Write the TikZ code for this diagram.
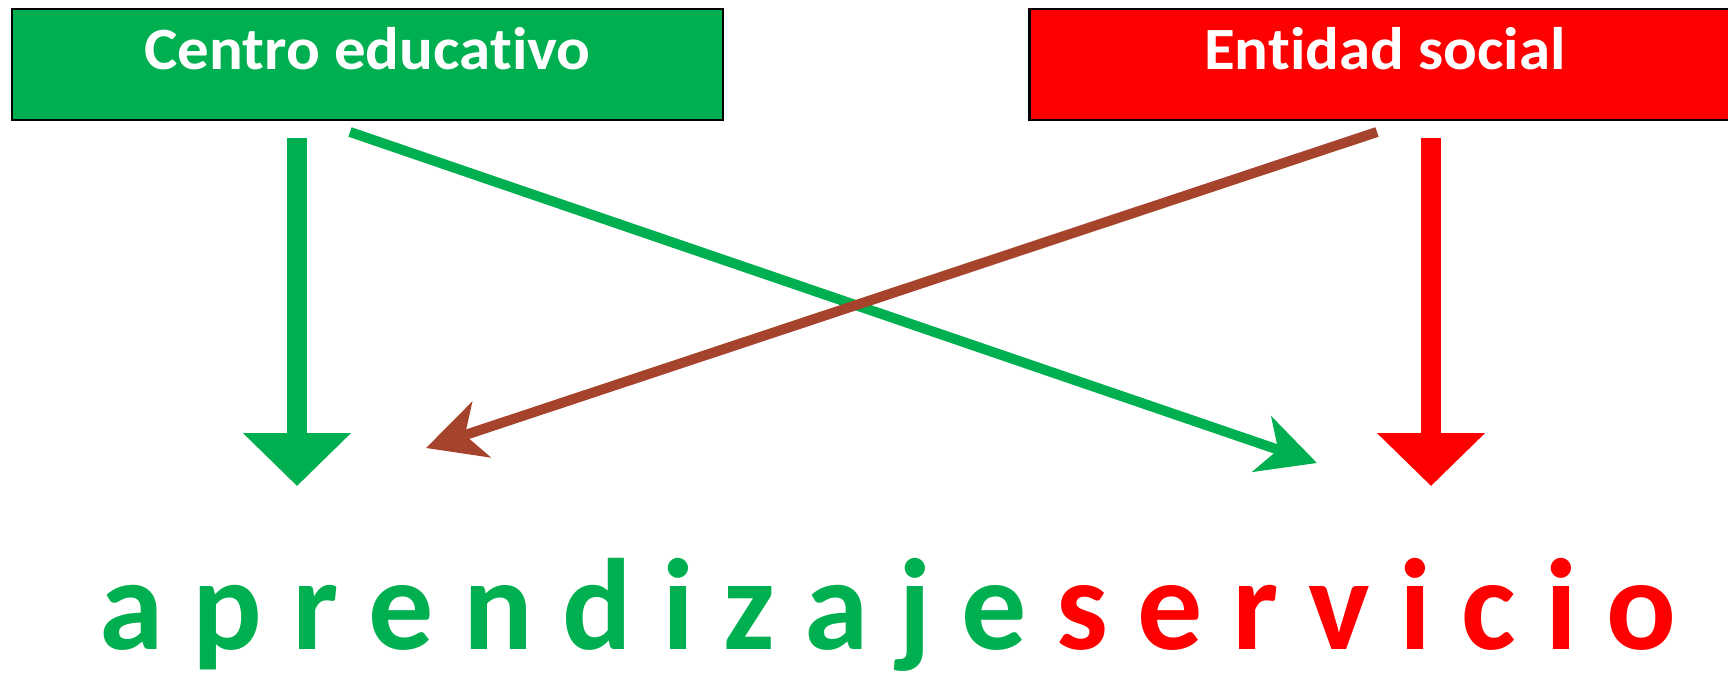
\documentclass[tikz,border=0pt]{standalone}
\usepackage{fontspec}
\setmainfont{Carlito}[Ligatures={NoCommon}]
\usetikzlibrary{arrows.meta}
\definecolor{ogreen}{HTML}{00B050}
\definecolor{ored}{HTML}{FF0000}
\definecolor{obrown}{HTML}{A5432D}
\newcommand\lsp{\hspace{14.8pt}}
\begin{document}
\begin{tikzpicture}[x=0.5pt,y=-0.5pt,
  box/.style={draw=black, line width=1.2pt, minimum width=355.5pt, minimum height=55.5pt, inner sep=0pt},
  boxtext/.style={text=white, font=\fontsize{30}{36}\selectfont\bfseries, anchor=base, inner sep=0pt, xscale=1.05},
  bigtext/.style={anchor=base, inner sep=0pt, font=\fontsize{65}{78}\selectfont\bfseries},
  blockarrow/.style={line width=9.75pt, -{Triangle[length=26.5pt,width=52.5pt]}},
  thinarrow/.style={line width=5pt, -{Stealth[length=29pt,width=29pt,inset=8.5pt]}},
]
\useasboundingbox (0,0) rectangle (1728,682);
\fill[white] (0,0) rectangle (1728,682);
\node[box, fill=ogreen] (ce) at (367.5,64.5) {};
\node[boxtext] (cet) at (367.5,69) {Centro educativo};
\node[box, fill=ored] (es) at (1385,64.5) {};
\node[boxtext] (est) at (1385,69) {Entidad social};
\node[bigtext] (as) at (888,649)
  {\textcolor{ogreen}{a\lsp p\lsp r\lsp e\lsp n\lsp d\lsp i\lsp z\lsp a\lsp j\lsp e\lsp}\textcolor{ored}{s\lsp e\lsp r\lsp v\lsp i\lsp c\lsp i\lsp o}};
\coordinate (gvs) at (297,138);
\coordinate (gve) at (297,486);
\coordinate (rvs) at (1431,138);
\coordinate (rve) at (1431,486);
\coordinate (gds) at (350,132);
\coordinate (gde) at (1317,463);
\coordinate (bds) at (1377,132);
\coordinate (bde) at (426,448);
\draw[blockarrow, ogreen] (gvs) -- (gve);
\draw[blockarrow, ored] (rvs) -- (rve);
\draw[thinarrow, ogreen] (gds) -- (gde);
\draw[thinarrow, obrown] (bds) -- (bde);
\end{tikzpicture}
\end{document}
